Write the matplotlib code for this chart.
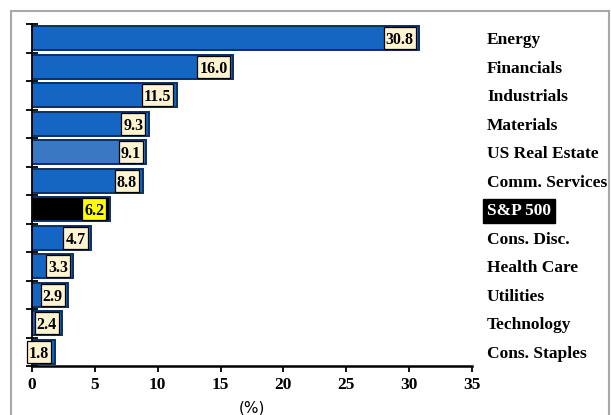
import matplotlib.pyplot as plt
import numpy as np
from matplotlib.patches import Rectangle
from matplotlib.transforms import IdentityTransform

sectors = ['Energy', 'Financials', 'Industrials', 'Materials', 'US Real Estate',
           'Comm. Services', 'S&P 500', 'Cons. Disc.', 'Health Care', 'Utilities',
           'Technology', 'Cons. Staples']
values = [30.8, 16.0, 11.5, 9.3, 9.1, 8.8, 6.2, 4.7, 3.3, 2.9, 2.4, 1.8]

blue = '#1466c2'
fills = [blue] * len(sectors)
fills[sectors.index('US Real Estate')] = '#3a78c4'
fills[sectors.index('S&P 500')] = 'black'

serif = ['Liberation Serif', 'DejaVu Serif']

fig = plt.figure(figsize=(6.11, 4.15), dpi=100)
ax = fig.add_axes([0.0524, 0.118, 0.720, 0.824])

# grey frame around the whole chart
fig.patches.append(Rectangle((0.018, -0.05), 0.978, 1.023, transform=fig.transFigure,
                             fill=False, edgecolor='#a8a8a8', linewidth=1.5))

y = np.arange(len(sectors))
ax.barh(y, values, height=0.84, color=fills, edgecolor='#0d2f63', linewidth=1.4, zorder=2)

value_texts = []
for i, (name, v) in enumerate(zip(sectors, values)):
    spx = name == 'S&P 500'
    t = ax.annotate(f'{v:.1f}', xy=(v, i), xytext=(-4, 0), textcoords='offset points',
                    ha='right', va='center_baseline', fontsize=11.5, fontweight='bold',
                    family=serif, zorder=6)
    value_texts.append((t, i, '#ffff00' if spx else '#fff4d2'))
    ax.text(36.2, i, name, ha='left', va='center_baseline', fontsize=12.5,
            fontweight='bold', family=serif, color='white' if spx else 'black',
            clip_on=False,
            bbox=dict(boxstyle='square,pad=0.22', fc='black', ec='black') if spx else None)

ax.set_xlim(0, 35)
ax.set_ylim(len(sectors) - 0.5, -0.5)
ax.set_xticks(range(0, 36, 5))
ax.set_xticklabels([str(t) for t in range(0, 36, 5)], fontweight='bold',
                   family=serif, fontsize=12.5)
ax.set_yticks(np.arange(len(sectors) + 1) - 0.5)
ax.set_yticklabels([])
ax.tick_params(axis='y', direction='inout', length=9, width=1.3)
ax.tick_params(axis='x', direction='out', length=4, width=1.3, pad=4)
ax.set_xlabel('(%)', fontsize=11, labelpad=5)

for s in ['top', 'right']:
    ax.spines[s].set_visible(False)
ax.spines['left'].set_linewidth(1.3)
ax.spines['bottom'].set_linewidth(1.8)

# value boxes sized in pixels, centred on each bar
fig.canvas.draw()
r = fig.canvas.get_renderer()
for t, i, fc in value_texts:
    bb = t.get_window_extent(r)
    yc = ax.transData.transform((0, i))[1]
    ax.add_patch(Rectangle((bb.x0 - 2, yc - 11), bb.width + 4, 22,
                           transform=IdentityTransform(), fc=fc, ec='black', lw=0.9,
                           zorder=5, clip_on=False))

fig.savefig('out.png', dpi=100)
